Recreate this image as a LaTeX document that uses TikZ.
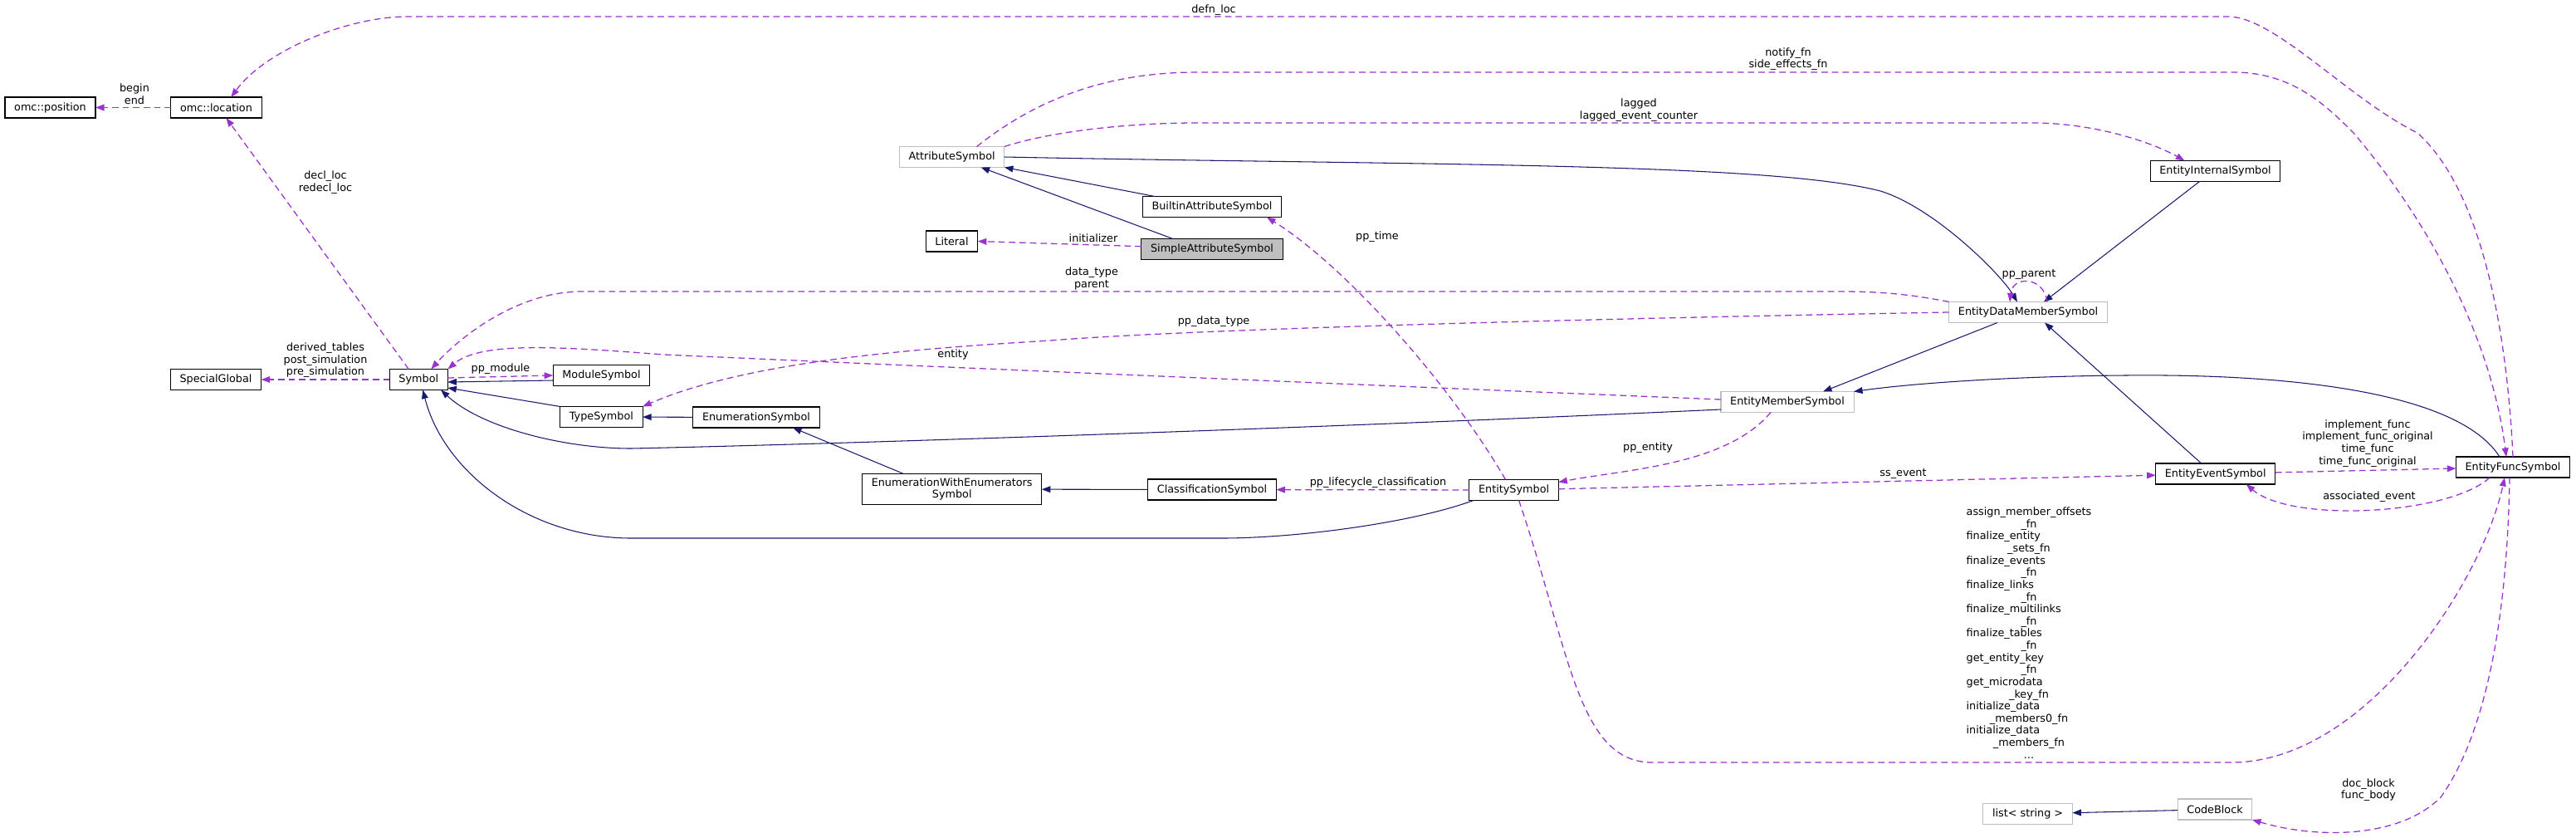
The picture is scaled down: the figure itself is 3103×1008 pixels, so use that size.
\documentclass[tikz,border=0pt]{standalone}
\usepackage{fontspec}
\setmainfont{DejaVu Sans}
\usetikzlibrary{arrows.meta,calc,positioning}
\definecolor{inheritblue}{HTML}{191970}
\definecolor{usepurple}{HTML}{9A32CD}
\definecolor{boxgrey}{HTML}{BFBFBF}
\newcommand{\midln}[1]{\multicolumn{1}{@{}c@{}}{#1}}
\tikzset{
    classbox/.style={
        rectangle,
        draw=black,
        line width=0.8pt,
        fill=white,
        inner xsep=0.28cm,
        inner ysep=3.5pt,
        minimum height=0.625cm,
        outer sep=0pt,
        align=center,
        font={\fontsize{9.1pt}{10.4pt}\selectfont}
    },
    greybox/.style={classbox, draw=boxgrey},
    curbox/.style={classbox, fill=boxgrey},
    inherit/.style={draw=inheritblue, line width=0.75pt, -{Triangle[length=7.5pt,width=5.5pt]}},
    usage/.style={draw=usepurple, line width=0.9pt, dash pattern=on 5.5pt off 3.5pt, -{Triangle[length=7.5pt,width=5.5pt]}},
    edgelabel/.style={inner sep=0pt, align=center, font={\fontsize{9.1pt}{10.4pt}\selectfont}},
}

\begin{document}
\begin{tikzpicture}[x=0.025cm, y=-0.025cm]
\useasboundingbox (0,0) rectangle (3103,1008);

% classes
\node[classbox] (position) at (60.5,129.5) {omc::position};
\node[classbox] (location) at (260.5,129.5) {omc::location};
\node[greybox] (attrsym) at (1146.6,189) {AttributeSymbol};
\node[classbox] (builtin) at (1460,249) {BuiltinAttributeSymbol};
\node[classbox] (literal) at (1146.5,290.5) {Literal};
\node[curbox] (simple) at (1460,299.7) {SimpleAttributeSymbol};
\node[classbox] (special) at (260,457) {SpecialGlobal};
\node[classbox] (symbol) at (504.3,457) {Symbol};
\node[classbox] (module) at (724.5,452) {ModuleSymbol};
\node[classbox] (typesym) at (724.4,502) {TypeSymbol};
\node[classbox] (enumsym) at (911,502.5) {EnumerationSymbol};
\node[classbox] (enumwith) at (1146.7,589) {EnumerationWithEnumerators\\Symbol};
\node[classbox] (classif) at (1460,589.5) {ClassificationSymbol};
\node[classbox] (entitysym) at (1823.6,590) {EntitySymbol};
\node[classbox] (intern) at (2668.5,206) {EntityInternalSymbol};
\node[greybox] (datamember) at (2443,376) {EntityDataMemberSymbol};
\node[greybox] (member) at (2153,484) {EntityMemberSymbol};
\node[classbox] (event) at (2668.7,570.5) {EntityEventSymbol};
\node[classbox] (func) at (3027,562.5) {EntityFuncSymbol};
\node[greybox] (liststr) at (2442.6,980) {list< string >};
\node[greybox] (codeblock) at (2668,974.5) {CodeBlock};

% inheritance
\draw[inherit] ($(builtin.north)+(-69,0)$) -- (attrsym.south east);
\draw[inherit] ($(simple.north)+(-48,0)$) -- ($(attrsym.south)+(35,0)$);
\draw[inherit] (attrsym.east) .. controls (1700,199) and (2130,195) .. (2265,230) .. controls (2330,250) and (2410,330) .. ($(datamember.north)+(-13,0)$);
\draw[inherit] ($(intern.south)+(-19,0)$) -- ($(datamember.north)+(19,0)$);
\draw[inherit] ($(datamember.south)+(-37,0)$) -- ($(member.north)+(43,0)$);
\draw[inherit] ($(event.north)+(-17,0)$) -- ($(datamember.south)+(20,0)$);
\draw[inherit] ($(func.north)+(-16,0)$) .. controls (2960,470) and (2750,450) .. (2560,452) .. controls (2420,453) and (2300,462) .. (member.north east);
\draw[inherit] ($(member.west)+(0,9)$) .. controls (1600,515) and (1000,535) .. (760,540) .. controls (680,540) and (580,515) .. (symbol.-25);
\draw[inherit] ($(entitysym.south west)+(5,0)$) .. controls (1700,630) and (1560,648) .. (1472,648) -- (760,648) .. controls (640,648) and (535,570) .. ($(symbol.south)+(5,0)$);
\draw[inherit] ($(module.west)+(0,6)$) -- ($(symbol.east)+(0,3)$);
\draw[inherit] (typesym.north west) -- ($(symbol.east)+(0,10)$);
\draw[inherit] (enumsym) -- (typesym);
\draw[inherit] ($(enumwith.north)+(-58,0)$) -- ($(enumsym.south)+(44,0)$);
\draw[inherit] (classif) -- (enumwith);
\draw[inherit] (codeblock) -- (liststr);

% usage
\draw[usage] (location) -- (position);
\draw[usage] (func.north) .. controls (3020,400) and (2990,230) .. (2912,160) .. controls (2830,120) and (2740,20) .. (2684,20) -- (491,20) .. controls (420,20) and (320,60) .. (location.35);
\draw[usage] ($(attrsym.north)+(30,0)$) .. controls (1260,110) and (1350,87) .. (1442,87) -- (2690,87) .. controls (2760,87) and (2800,125) .. (2835,160) .. controls (2920,260) and (3000,400) .. ($(func.north)+(-8,0)$);
\draw[usage] (attrsym.north east) .. controls (1260,160) and (1350,148) .. (1442,148) -- (2449,148) .. controls (2520,148) and (2590,170) .. ($(intern.north)+(-37,0)$);
\draw[usage] ($(simple.west)+(0,-3)$) -- (literal.east);
\draw[usage] ($(entitysym.north)+(-10,0)$) .. controls (1745,460) and (1620,320) .. ($(builtin.south)+(66,0)$);
\draw[usage] ($(entitysym.south)+(6,0)$) .. controls (1890,780) and (1900,918) .. (1990,918) -- (2688,918) .. controls (2850,918) and (2990,700) .. ($(func.south)+(-10,0)$);
\draw[usage] (entitysym) -- (classif);
\draw[usage] ($(member.south)+(-20,0)$) .. controls (2080,560) and (1960,565) .. (entitysym.10);
\draw[usage] (entitysym) -- (event);
\draw[usage] (event) -- (func);
\draw[usage] ($(func.south)+(-28,0)$) .. controls (2950,620) and (2760,630) .. ($(event.south)+(37,0)$);
\draw[usage] ($(func.south)+(-4,0)$) .. controls (3020,760) and (2990,890) .. (2940,960) .. controls (2890,1010) and (2790,1010) .. (codeblock.south east);
\draw[usage] (datamember.north west) .. controls (2280,350) and (2240,351) .. (2190,351) -- (701,351) .. controls (620,351) and (550,410) .. ($(symbol.north)+(15,0)$);
\draw[usage] (datamember.west) .. controls (2000,382) and (1450,395) .. (1265,410) .. controls (1100,420) and (900,435) .. (typesym.north east);
\draw[usage] ($(member.west)+(0,-3)$) .. controls (1800,470) and (1200,445) .. (800,427) .. controls (680,418) and (580,410) .. (symbol.north east);
\draw[usage] ($(symbol.east)+(0,-2)$) -- (module.west);
\draw[usage] (symbol) -- (special);
\draw[usage] ($(symbol.north)+(-12,0)$) -- ($(location.south)+(12,0)$);
\draw[usage] ($(datamember.north)+(23,0)$) .. controls (2462,332) and (2424,332) .. ($(datamember.north)+(-22,0)$);

% labels
\node[edgelabel] (lbegin) at (162,113) {begin\\end};
\node[edgelabel] (ldefn) at (1462,12) {defn\_loc};
\node[edgelabel] (lnotify) at (2154,71) {notify\_fn\\side\_effects\_fn};
\node[edgelabel] (llagged) at (1974,132.5) {lagged\\lagged\_event\_counter};
\node[edgelabel] (ldecl) at (392,219.7) {decl\_loc\\redecl\_loc};
\node[edgelabel] (linit) at (1317,287) {initializer};
\node[edgelabel] (ltime) at (1659,285) {pp\_time};
\node[edgelabel] (ldatatype) at (1315,335.5) {data\_type\\parent};
\node[edgelabel] (lparent) at (2444,330.7) {pp\_parent};
\node[edgelabel] (lppdatatype) at (1462,386.7) {pp\_data\_type};
\node[edgelabel] (lentity) at (1148,427.3) {entity};
\node[edgelabel] (lderived) at (392,434) {derived\_tables\\post\_simulation\\pre\_simulation};
\node[edgelabel] (lmodule) at (603,444) {pp\_module};
\node[edgelabel] (lppentity) at (1985,539) {pp\_entity};
\node[edgelabel] (limpl) at (2852,533.7) {implement\_func\\implement\_func\_original\\time\_func\\time\_func\_original};
\node[edgelabel] (lssevent) at (2292.5,570.7) {ss\_event};
\node[edgelabel] (llifecycle) at (1660,581) {pp\_lifecycle\_classification};
\node[edgelabel] (lassoc) at (2854,598.3) {associated\_event};
\node[edgelabel] (lfuncs) at (2444,764) {\begin{tabular}{@{}l@{}}
\midln{assign\_member\_offsets}\\
\midln{\_fn}\\
finalize\_entity\\
\midln{\_sets\_fn}\\
finalize\_events\\
\midln{\_fn}\\
finalize\_links\\
\midln{\_fn}\\
finalize\_multilinks\\
\midln{\_fn}\\
finalize\_tables\\
\midln{\_fn}\\
get\_entity\_key\\
\midln{\_fn}\\
get\_microdata\\
\midln{\_key\_fn}\\
initialize\_data\\
\midln{\_members0\_fn}\\
initialize\_data\\
\midln{\_members\_fn}\\
\midln{...}
\end{tabular}};
\node[edgelabel] (ldoc) at (2853,951) {doc\_block\\func\_body};
\end{tikzpicture}
\end{document}
